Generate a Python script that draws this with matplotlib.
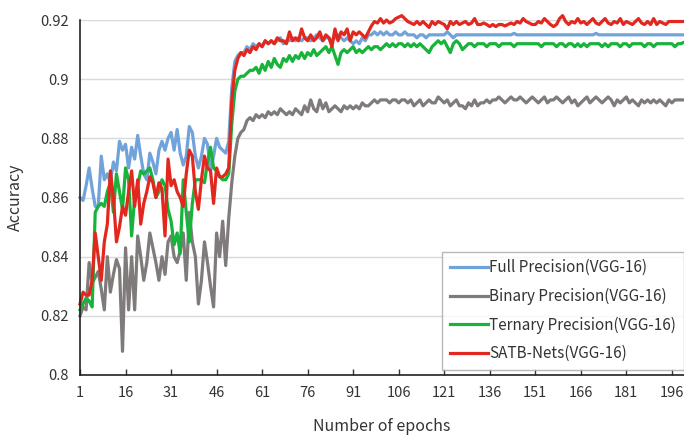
import matplotlib
matplotlib.use('Agg')
import matplotlib.pyplot as plt

plt.rcParams['font.family'] = ['Noto Sans CJK SC', 'DejaVu Sans']

epochs = list(range(1, 201))

full_precision = [
    0.860, 0.859, 0.864, 0.870, 0.863, 0.857, 0.857, 0.874, 0.866, 0.868,
    0.865, 0.872, 0.869, 0.879, 0.876, 0.878, 0.870, 0.877, 0.873, 0.881,
    0.874, 0.868, 0.866, 0.875, 0.872, 0.868, 0.876, 0.879, 0.876, 0.880,
    0.882, 0.876, 0.883, 0.875, 0.871, 0.874, 0.884, 0.882, 0.874, 0.870,
    0.874, 0.880, 0.878, 0.869, 0.874, 0.880, 0.877, 0.876, 0.875, 0.879,
    0.897, 0.906, 0.908, 0.909, 0.909, 0.911, 0.910, 0.912, 0.911, 0.912,
    0.911, 0.913, 0.912, 0.913, 0.912, 0.913, 0.914, 0.912, 0.913, 0.913,
    0.914, 0.913, 0.914, 0.913, 0.914, 0.914, 0.913, 0.914, 0.915, 0.914,
    0.913, 0.914, 0.914, 0.913, 0.914, 0.915, 0.914, 0.913, 0.914, 0.913,
    0.912, 0.913, 0.912, 0.914, 0.913, 0.915, 0.915, 0.916, 0.915, 0.916,
    0.915, 0.916, 0.915, 0.915, 0.916, 0.915, 0.915, 0.916, 0.915, 0.915,
    0.915, 0.914, 0.915, 0.915, 0.914, 0.915, 0.915, 0.915, 0.915, 0.915,
    0.915, 0.916, 0.915, 0.914, 0.915, 0.915, 0.915, 0.915, 0.915, 0.915,
    0.915, 0.915, 0.915, 0.915, 0.915, 0.915, 0.915, 0.915, 0.915, 0.915,
    0.915, 0.915, 0.915, 0.9155, 0.915, 0.915, 0.915, 0.915, 0.915, 0.915,
    0.915, 0.915, 0.915, 0.915, 0.915, 0.915, 0.915, 0.915, 0.915, 0.915,
    0.915, 0.915, 0.915, 0.915, 0.915, 0.915, 0.915, 0.915, 0.915, 0.915,
    0.9155, 0.915, 0.915, 0.915, 0.915, 0.915, 0.915, 0.915, 0.915, 0.915,
    0.915, 0.915, 0.915, 0.915, 0.915, 0.915, 0.915, 0.915, 0.915, 0.915,
    0.915, 0.915, 0.915, 0.915, 0.915, 0.915, 0.915, 0.915, 0.915, 0.915,
]

binary_precision = [
    0.820, 0.823, 0.822, 0.838, 0.831, 0.833, 0.835, 0.829, 0.822, 0.840,
    0.828, 0.834, 0.839, 0.836, 0.808, 0.843, 0.822, 0.840, 0.822, 0.847,
    0.840, 0.832, 0.838, 0.848, 0.843, 0.838, 0.832, 0.840, 0.834, 0.845,
    0.847, 0.840, 0.838, 0.842, 0.848, 0.832, 0.855, 0.845, 0.840, 0.824,
    0.832, 0.845, 0.838, 0.830, 0.823, 0.848, 0.840, 0.852, 0.837, 0.853,
    0.865, 0.874, 0.880, 0.882, 0.883, 0.886, 0.887, 0.886, 0.888, 0.887,
    0.888, 0.887, 0.889, 0.888, 0.889, 0.888, 0.890, 0.889, 0.888, 0.889,
    0.888, 0.890, 0.889, 0.888, 0.891, 0.889, 0.893, 0.890, 0.889, 0.893,
    0.890, 0.892, 0.889, 0.890, 0.891, 0.890, 0.889, 0.891, 0.890, 0.891,
    0.890, 0.891, 0.890, 0.892, 0.891, 0.891, 0.892, 0.893, 0.892, 0.893,
    0.893, 0.893, 0.892, 0.893, 0.893, 0.892, 0.893, 0.893, 0.892, 0.893,
    0.891, 0.892, 0.893, 0.891, 0.892, 0.893, 0.892, 0.892, 0.894, 0.893,
    0.892, 0.893, 0.891, 0.892, 0.893, 0.891, 0.891, 0.890, 0.892, 0.891,
    0.893, 0.891, 0.892, 0.892, 0.893, 0.892, 0.893, 0.893, 0.894, 0.893,
    0.892, 0.893, 0.894, 0.893, 0.893, 0.894, 0.893, 0.892, 0.893, 0.894,
    0.893, 0.892, 0.893, 0.894, 0.892, 0.893, 0.893, 0.894, 0.893, 0.892,
    0.893, 0.894, 0.892, 0.893, 0.891, 0.892, 0.893, 0.894, 0.892, 0.893,
    0.894, 0.893, 0.892, 0.893, 0.894, 0.893, 0.891, 0.893, 0.892, 0.893,
    0.894, 0.892, 0.893, 0.892, 0.891, 0.893, 0.892, 0.893, 0.892, 0.893,
    0.892, 0.893, 0.892, 0.891, 0.893, 0.892, 0.893, 0.893, 0.893, 0.893,
]

ternary_precision = [
    0.822, 0.824, 0.826, 0.825, 0.823, 0.855, 0.857, 0.858, 0.857, 0.862,
    0.865, 0.855, 0.868, 0.862, 0.856, 0.870, 0.866, 0.847, 0.860, 0.864,
    0.869, 0.868, 0.869, 0.870, 0.866, 0.860, 0.862, 0.866, 0.864, 0.856,
    0.852, 0.844, 0.848, 0.841, 0.866, 0.855, 0.845, 0.858, 0.866, 0.866,
    0.866, 0.865, 0.872, 0.877, 0.870, 0.869, 0.867, 0.866, 0.866, 0.868,
    0.885, 0.896, 0.900, 0.901, 0.901, 0.902, 0.903, 0.903, 0.904, 0.902,
    0.905, 0.903, 0.906, 0.904, 0.907, 0.905, 0.904, 0.907, 0.906, 0.908,
    0.906, 0.908, 0.907, 0.909, 0.907, 0.909, 0.908, 0.910, 0.908, 0.909,
    0.910, 0.911, 0.909, 0.911, 0.908, 0.905, 0.909, 0.910, 0.909, 0.910,
    0.911, 0.909, 0.910, 0.909, 0.910, 0.911, 0.910, 0.911, 0.911, 0.910,
    0.911, 0.912, 0.911, 0.912, 0.911, 0.912, 0.912, 0.911, 0.912, 0.911,
    0.912, 0.911, 0.912, 0.911, 0.910, 0.909, 0.911, 0.912, 0.913, 0.912,
    0.913, 0.911, 0.909, 0.912, 0.913, 0.912, 0.910, 0.911, 0.912, 0.912,
    0.911, 0.912, 0.912, 0.912, 0.911, 0.912, 0.912, 0.912, 0.911, 0.912,
    0.912, 0.912, 0.912, 0.911, 0.912, 0.912, 0.912, 0.912, 0.912, 0.912,
    0.912, 0.912, 0.911, 0.912, 0.912, 0.912, 0.912, 0.911, 0.912, 0.912,
    0.911, 0.912, 0.912, 0.911, 0.912, 0.911, 0.912, 0.911, 0.912, 0.912,
    0.912, 0.912, 0.911, 0.912, 0.911, 0.912, 0.912, 0.912, 0.911, 0.912,
    0.912, 0.911, 0.912, 0.912, 0.912, 0.912, 0.911, 0.912, 0.912, 0.911,
    0.912, 0.912, 0.912, 0.912, 0.912, 0.912, 0.911, 0.912, 0.912, 0.9125,
]

satb_nets = [
    0.824, 0.828, 0.827, 0.827, 0.832, 0.848, 0.840, 0.832, 0.845, 0.851,
    0.869, 0.860, 0.845, 0.850, 0.857, 0.854, 0.862, 0.869, 0.857, 0.866,
    0.851, 0.858, 0.862, 0.867, 0.865, 0.860, 0.865, 0.863, 0.847, 0.873,
    0.864, 0.866, 0.862, 0.860, 0.857, 0.868, 0.876, 0.874, 0.862, 0.856,
    0.866, 0.874, 0.870, 0.869, 0.858, 0.870, 0.867, 0.867, 0.868, 0.870,
    0.893, 0.903, 0.907, 0.909, 0.908, 0.910, 0.909, 0.911, 0.910, 0.912,
    0.911, 0.913, 0.912, 0.913, 0.912, 0.914, 0.913, 0.913, 0.912, 0.916,
    0.913, 0.914, 0.913, 0.917, 0.914, 0.913, 0.915, 0.913, 0.914, 0.916,
    0.913, 0.915, 0.914, 0.911, 0.917, 0.913, 0.916, 0.915, 0.917, 0.913,
    0.916, 0.915, 0.916, 0.915, 0.914, 0.916, 0.918, 0.9195, 0.919, 0.9205,
    0.919, 0.920, 0.919, 0.9195, 0.9205, 0.921, 0.9215, 0.9205, 0.9195, 0.919,
    0.9185, 0.9195, 0.9185, 0.9195, 0.9185, 0.9175, 0.9195, 0.9185, 0.9195, 0.919,
    0.9185, 0.917, 0.9195, 0.9185, 0.9195, 0.9185, 0.919, 0.9195, 0.9185, 0.919,
    0.9205, 0.9185, 0.9185, 0.919, 0.9185, 0.9178, 0.9185, 0.9178, 0.9185, 0.9185,
    0.918, 0.9185, 0.919, 0.9185, 0.9195, 0.919, 0.9205, 0.9195, 0.919, 0.9185,
    0.9185, 0.9195, 0.919, 0.9205, 0.9195, 0.9185, 0.9178, 0.9185, 0.9205, 0.9215,
    0.9195, 0.9185, 0.9195, 0.919, 0.9205, 0.919, 0.9195, 0.9185, 0.9195, 0.9205,
    0.919, 0.9185, 0.9195, 0.9205, 0.919, 0.9185, 0.9195, 0.919, 0.9205, 0.9185,
    0.9195, 0.919, 0.9185, 0.9195, 0.9205, 0.919, 0.9185, 0.9195, 0.9185, 0.9205,
    0.9185, 0.9195, 0.919, 0.9185, 0.9195, 0.9195, 0.9195, 0.9195, 0.9195, 0.9195,
]

x_ticks = list(range(1, 200, 15))
y_ticks = [0.8, 0.82, 0.84, 0.86, 0.88, 0.9, 0.92]
y_tick_labels = ['0.8', '0.82', '0.84', '0.86', '0.88', '0.9', '0.92']

fig = plt.figure(figsize=(6.84, 4.36), dpi=100)
ax = fig.add_axes([0.117, 0.14, 0.883, 0.814])

ax.plot(epochs, full_precision, color='#6FA3DA', lw=2.3, label='Full Precision(VGG-16)', clip_on=False)
ax.plot(epochs, binary_precision, color='#807B7B', lw=2.3, label='Binary Precision(VGG-16)', clip_on=False)
ax.plot(epochs, ternary_precision, color='#17B33A', lw=2.3, label='Ternary Precision(VGG-16)', clip_on=False)
ax.plot(epochs, satb_nets, color='#E2281E', lw=2.3, label='SATB-Nets(VGG-16)', clip_on=False)

ax.set_xlim(1, 200)
ax.set_ylim(0.8, 0.92)
ax.set_xticks(x_ticks)
ax.set_yticks(y_ticks)
ax.set_yticklabels(y_tick_labels)
ax.grid(axis='y', color='#D9D9D9', lw=1)
ax.set_axisbelow(True)
ax.tick_params(axis='x', direction='in', length=4, width=1, labelsize=10.5, pad=8, colors='#333333')
ax.tick_params(axis='y', length=0, labelsize=10.5, pad=8, colors='#333333')
for s in ['top', 'right']:
    ax.spines[s].set_visible(False)
for s in ['left', 'bottom']:
    ax.spines[s].set_color('#222222')
    ax.spines[s].set_linewidth(1.2)

ax.set_xlabel('Number of epochs', fontsize=11.5, labelpad=13, color='#333333')
ax.set_ylabel('Accuracy', fontsize=11.5, labelpad=12, color='#333333')

leg = ax.legend(loc='lower right', bbox_to_anchor=(1.0, 0.015), fontsize=11, frameon=True,
                fancybox=False, edgecolor='#A6A6A6', handlelength=2.5, handletextpad=0.1,
                labelspacing=0.75, borderpad=0.5, borderaxespad=0)
leg.get_frame().set_linewidth(1)
for t in leg.get_texts():
    t.set_color('#333333')

fig.savefig('out.png', dpi=100)
